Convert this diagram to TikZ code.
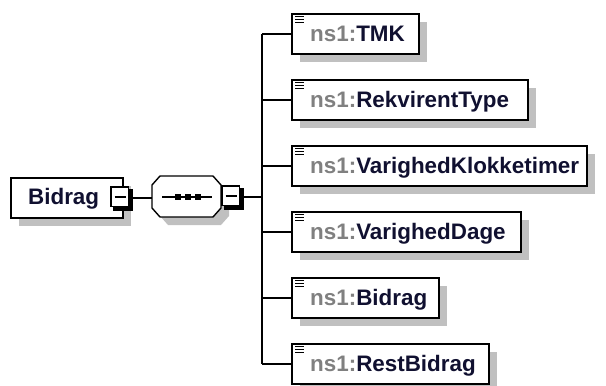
\documentclass[tikz,border=0pt]{standalone}
\usepackage{fontspec}
\setmainfont{Liberation Sans}
\usetikzlibrary{shadows}
\definecolor{shadowgray}{RGB}{192,192,192}
\definecolor{nsgray}{RGB}{128,128,128}
\definecolor{namecol}{RGB}{16,16,48}
\newcommand{\nsp}{\color{nsgray}}
\newcommand{\nmc}{\color{namecol}}
\newcommand{\minusglyph}[2]{%
  \fill[black] (#1+2,#2+2) rectangle (#1+22,#2+23.5);
  \draw[line width=1.4pt, fill=white] (#1,#2) rectangle (#1+17.5,#2+19.5);
  \draw[line width=1.5pt] (#1+3.5,#2+10) -- (#1+14.5,#2+10);}
\tikzset{
  elem/.style={draw=black, line width=1.6pt, fill=white, minimum height=40pt,
    inner sep=0pt, anchor=north west,
    drop shadow={shadow xshift=8pt, shadow yshift=-8pt, fill=shadowgray, opacity=1}},
  lbl/.style={anchor=base west, inner sep=0pt, font=\fontsize{22.4pt}{26pt}\selectfont\bfseries},
  conn/.style={draw=black, line width=1.6pt},
  anchorbox/.style={inner sep=0pt, anchor=north west, minimum width=22pt, minimum height=24pt},
  docicon/.pic={\draw[line width=1.4pt] (0,0)--(9,0) (0,3)--(9,3) (0,6)--(9,6);},
}
\begin{document}
\begin{tikzpicture}[x=1pt,y=-1pt]
\useasboundingbox (0,0) rectangle (606,386);
% root element
\node[elem, minimum width=112pt] (root) at (10,177) {};
\node[lbl] (roott) at ([xshift=18pt,yshift=-27pt]root.north west) {\nmc Bidrag};
\minusglyph{111}{187}
\node[anchorbox] (rminus) at (111,187) {};
% sequence compositor
\fill[shadowgray] (168,184)--(221,184)--(229,193)--(229,216)--(221,225)--(168,225)--(160,216)--(160,193)--cycle;
\draw[line width=1.4pt, fill=white] (160,176)--(213,176)--(221,185)--(221,208)--(213,217)--(160,217)--(152,208)--(152,185)--cycle;
\node[inner sep=0pt, anchor=north west, minimum width=69pt, minimum height=41pt] (seq) at (152,176) {};
\coordinate (sl) at (162,197);
\coordinate (sr) at (212,197);
\draw[line width=1.4pt] (sl) -- (sr);
\foreach \dx in {178,188,198} \fill (\dx-3,194) rectangle (\dx+3,200);
\minusglyph{222}{186}
\node[anchorbox] (sminus) at (222,186) {};
\coordinate (trunk) at (262,197);
\draw[conn] ([yshift=1pt]rminus.east) -- ([yshift=1pt]rminus.east -| seq.west);
\draw[conn] ([yshift=1pt]sminus.east) -- ([yshift=1pt]sminus.east -| trunk);
% children
\node[elem, minimum width=127pt] (c1) at (291,13) {};
\node[elem, minimum width=236pt] (c2) at (291,79) {};
\node[elem, minimum width=295pt] (c3) at (291,145) {};
\node[elem, minimum width=229pt] (c4) at (291,211) {};
\node[elem, minimum width=147pt] (c5) at (291,277) {};
\node[elem, minimum width=197pt] (c6) at (291,343) {};
\node[lbl] (t1) at ([xshift=19pt,yshift=-28pt]c1.north west) {\nsp ns1:\nmc TMK};
\node[lbl] (t2) at ([xshift=19pt,yshift=-28pt]c2.north west) {\nsp ns1:\nmc RekvirentType};
\node[lbl] (t3) at ([xshift=19pt,yshift=-28pt]c3.north west) {\nsp ns1:\nmc VarighedKlokketimer};
\node[lbl] (t4) at ([xshift=19pt,yshift=-28pt]c4.north west) {\nsp ns1:\nmc VarighedDage};
\node[lbl] (t5) at ([xshift=19pt,yshift=-28pt]c5.north west) {\nsp ns1:\nmc Bidrag};
\node[lbl] (t6) at ([xshift=19pt,yshift=-28pt]c6.north west) {\nsp ns1:\nmc RestBidrag};
\foreach \c in {c1,c2,c3,c4,c5,c6} {
  \pic at ([xshift=4pt,yshift=-3.5pt]\c.north west) {docicon};
  \draw[conn] (\c.west -| trunk) -- (\c.west);
}
\draw[conn] (c1.west -| trunk) -- (c6.west -| trunk);
\end{tikzpicture}
\end{document}
